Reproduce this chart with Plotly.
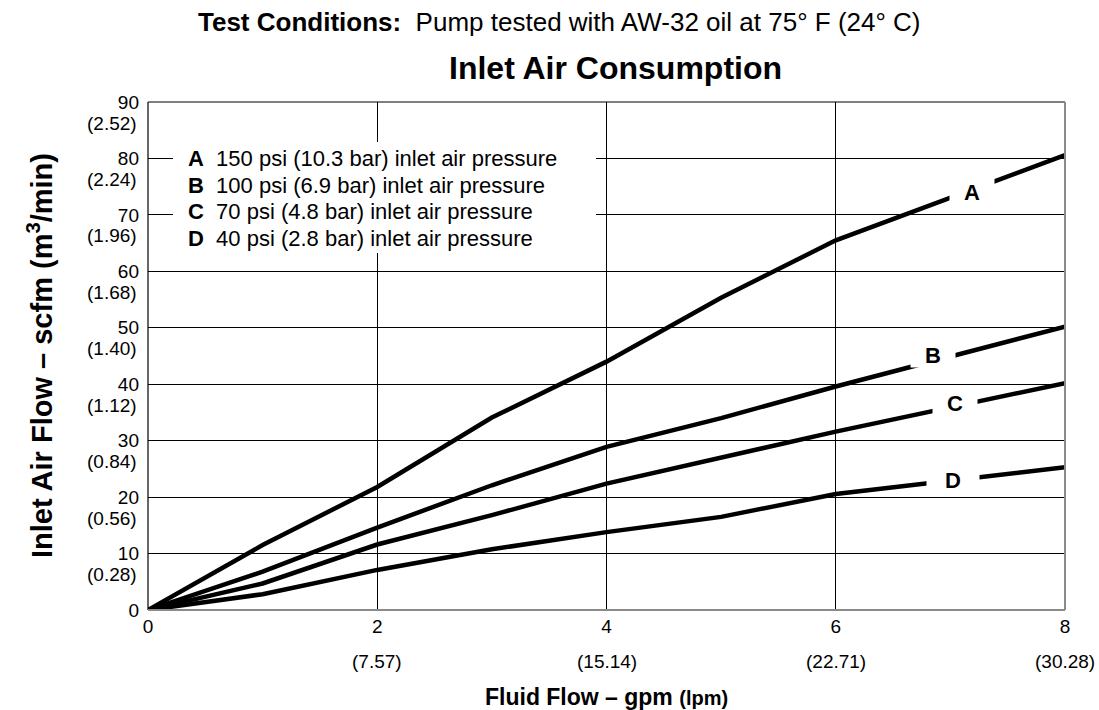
import plotly.graph_objects as go

# ---- data ----
gpm = [0, 1, 2, 3, 4, 5, 6, 8]
scfm_A = [0, 11.5, 21.8, 34.1, 44.0, 55.3, 65.5, 80.6]
scfm_B = [0, 6.8, 14.6, 22.1, 28.9, 34.0, 39.6, 50.2]
scfm_C = [0, 4.7, 11.6, 16.8, 22.4, 27.1, 31.6, 40.2]
scfm_D = [0, 2.8, 7.1, 10.75, 13.8, 16.5, 20.55, 25.3]
series_names = ["A", "B", "C", "D"]
series_desc = [
    "150 psi (10.3 bar) inlet air pressure",
    "100 psi (6.9 bar) inlet air pressure",
    "70 psi (4.8 bar) inlet air pressure",
    "40 psi (2.8 bar) inlet air pressure",
]
label_x = [7.19, 6.85, 7.04, 7.02]
label_y = [74.1, 45.2, 36.7, 23.0]
x_tickvals = [0, 2, 4, 6, 8]
x_ticktext = ["0", "2", "4", "6", "8"]
x_tick_lpm = ["", "(7.57)", "(15.14)", "(22.71)", "(30.28)"]
y_tickvals = [0, 10, 20, 30, 40, 50, 60, 70, 80, 90]
y_ticktext = ["0", "10", "20", "30", "40", "50", "60", "70", "80", "90"]
y_tick_m3 = ["", "(0.28)", "(0.56)", "(0.84)", "(1.12)", "(1.40)",
             "(1.68)", "(1.96)", "(2.24)", "(2.52)"]

FONT = "Liberation Sans, Arial, Helvetica, sans-serif"
PW, PH = 917, 508  # plot area size in px (for paper offsets)

fig = go.Figure()
for name, ys in zip(series_names, [scfm_A, scfm_B, scfm_C, scfm_D]):
    fig.add_trace(go.Scatter(x=gpm, y=ys, mode="lines", name=name,
                             line=dict(color="black", width=4.5),
                             showlegend=False, hoverinfo="skip"))

annotations = []
# series labels with white gap
gap_w = [40, 40, 40, 48]
gap_h = [24, 20, 20, 16]
for n, lx, ly, w, h in zip(series_names, label_x, label_y, gap_w, gap_h):
    annotations.append(dict(x=lx, y=ly, xref="x", yref="y", text="<b>%s</b>" % n,
                            showarrow=False, bgcolor="white", width=w, height=h,
                            borderpad=2, font=dict(family=FONT, size=22, color="black")))

# legend box text
leg_rows_px = [158, 185, 212, 239]
for n, d, py in zip(series_names, series_desc, leg_rows_px):
    annotations.append(dict(x=(186 - 148) / PW, y=(610 - py) / PH, xref="paper", yref="paper",
                            xanchor="left", yanchor="middle", showarrow=False,
                            text="<b>%s</b>  %s" % (n, d),
                            font=dict(family=FONT, size=22, color="black")))

# secondary units for ticks
for v, t in zip(x_tickvals, x_tick_lpm):
    if t:
        annotations.append(dict(x=v, y=0, xref="x", yref="y", yshift=-51, showarrow=False,
                                text=t, xanchor="center", yanchor="middle",
                                font=dict(family=FONT, size=19, color="black")))
for v, t in zip(y_tickvals, y_tick_m3):
    if t:
        annotations.append(dict(x=0, y=v, xref="paper", yref="y", xshift=-9, yshift=-21,
                                showarrow=False, text=t, xanchor="right", yanchor="middle",
                                font=dict(family=FONT, size=19, color="black")))

# titles
annotations.append(dict(x=(559 - 148) / PW, y=(610 - 22) / PH, xref="paper", yref="paper",
                        showarrow=False, xanchor="center", yanchor="middle",
                        text="<b>Test Conditions:</b>  Pump tested with AW-32 oil at 75° F (24° C)",
                        font=dict(family=FONT, size=26, color="black")))
annotations.append(dict(x=(615 - 148) / PW, y=(610 - 68) / PH, xref="paper", yref="paper",
                        showarrow=False, xanchor="center", yanchor="middle",
                        text="<b>Inlet Air Consumption</b>",
                        font=dict(family=FONT, size=32, color="black")))
annotations.append(dict(x=(606 - 148) / PW, y=(610 - 697) / PH, xref="paper", yref="paper",
                        showarrow=False, xanchor="center", yanchor="middle",
                        text="<b>Fluid Flow – gpm <span style='font-size:20px'>(lpm)</span></b>",
                        font=dict(family=FONT, size=23, color="black")))
annotations.append(dict(x=(40 - 148) / PW, y=(610 - 356) / PH, xref="paper", yref="paper",
                        showarrow=False, textangle=-90, xanchor="center", yanchor="middle",
                        text="<b>Inlet Air Flow – scfm (m<sup>3</sup>/min)</b>",
                        font=dict(family=FONT, size=29, color="black")))

shapes = [
    # white legend box
    dict(type="rect", xref="paper", yref="paper",
         x0=(173 - 148) / PW, x1=(596 - 148) / PW, y0=(610 - 253) / PH, y1=(610 - 142) / PH,
         fillcolor="white", line=dict(width=0), layer="above"),
    # frame
    dict(type="line", xref="paper", yref="paper", x0=0, x1=0, y0=0, y1=1,
         line=dict(color="black", width=1.2), layer="above"),
    dict(type="line", xref="paper", yref="paper", x0=0, x1=1, y0=1, y1=1,
         line=dict(color="black", width=1.2), layer="above"),
    dict(type="line", xref="paper", yref="paper", x0=1, x1=1, y0=0, y1=1,
         line=dict(color="#8a8a8a", width=2), layer="above"),
    dict(type="line", xref="paper", yref="paper", x0=0, x1=1, y0=0, y1=0,
         line=dict(color="#8a8a8a", width=2), layer="above"),
]

fig.update_layout(
    width=1099, height=710,
    margin=dict(l=148, r=34, t=102, b=100),
    paper_bgcolor="white", plot_bgcolor="white",
    font=dict(family=FONT, size=19, color="black"),
    annotations=annotations, shapes=shapes,
    xaxis=dict(range=[0, 8], tickvals=x_tickvals, ticktext=x_ticktext,
               showgrid=True, gridcolor="black", gridwidth=1, zeroline=False,
               showline=False, ticks="", ticklabelstandoff=3,
               tickfont=dict(family=FONT, size=19, color="black"), fixedrange=True),
    yaxis=dict(range=[0, 90], tickvals=y_tickvals, ticktext=y_ticktext,
               showgrid=True, gridcolor="black", gridwidth=1, zeroline=False,
               showline=False, ticks="", ticklabelstandoff=8,
               tickfont=dict(family=FONT, size=19, color="black"), fixedrange=True),
)

fig.write_html("out.html", config={"displayModeBar": False},
               post_script="document.body.style.margin='0';document.body.style.padding='0';"
                           "document.body.style.overflow='hidden';")
